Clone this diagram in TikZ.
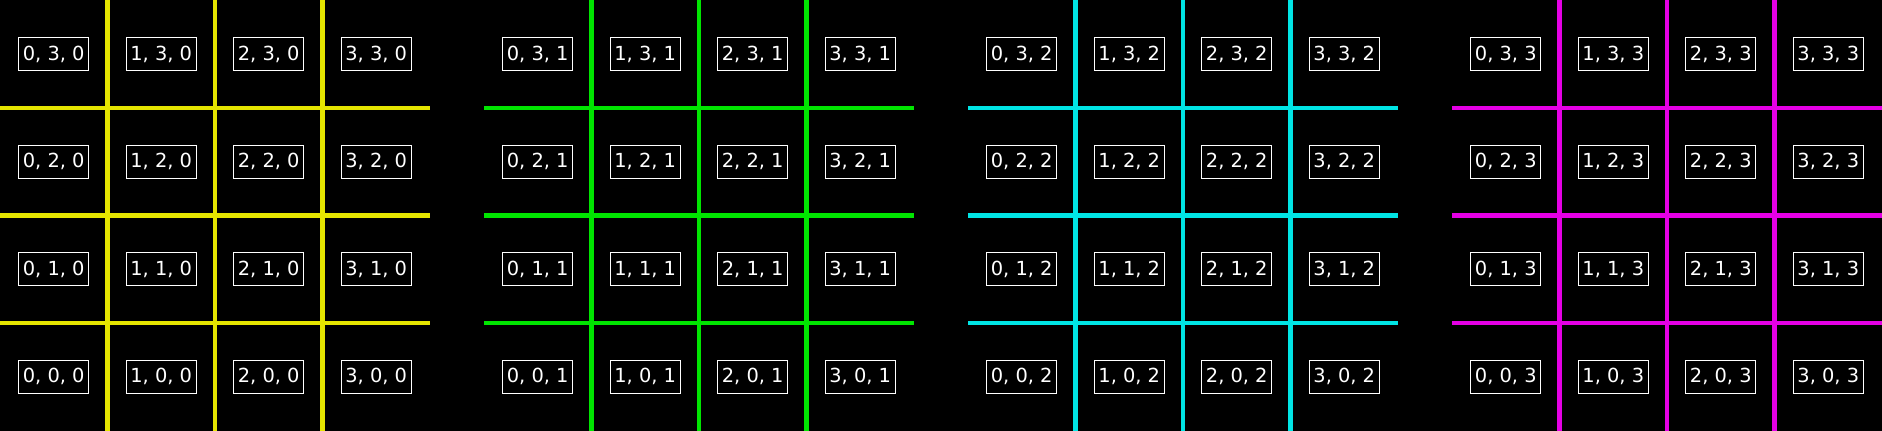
\documentclass[tikz,border=0pt]{standalone}
\usepackage{fontspec}
\setmainfont{DejaVu Sans}
\definecolor{LayerClrA}{rgb}{0.9,0.9,0}
\definecolor{LayerClrB}{rgb}{0,0.9,0}
\definecolor{LayerClrC}{rgb}{0,0.9,0.9}
\definecolor{LayerClrD}{rgb}{0.9,0,0.9}
\tikzset{cellLabel/.style={draw=white,line width=0.5pt,text=white,inner xsep=2pt,
    minimum height=16.6pt,font=\fontsize{9.7}{11}\selectfont},
  gridLine/.style={line width=2.2pt}}

\begin{document}
\begin{tikzpicture}[x=1.889cm,y=1.889cm]
\fill[black] (0,-0.005) rectangle (17.507,4.004);
\useasboundingbox (0,-0.005) rectangle (17.507,4.004);

\foreach \z/\clr in {0/LayerClrA,1/LayerClrB,2/LayerClrC,3/LayerClrD}{
  \begin{scope}[shift={(\z*4.5023,0)}]
    \foreach \k in {1,2,3}{
      \draw[gridLine,\clr] (0,\k) -- (4,\k);
      \draw[gridLine,\clr] (\k,-0.01) -- (\k,4.004);
    }
    \foreach \x in {0,...,3}{
      \foreach \y in {0,...,3}{
        \node[cellLabel] (c-\x-\y-\z) at (\x+0.5,\y+0.5) {\x, \y, \z};
      }
    }
  \end{scope}
}

\end{tikzpicture}
\end{document}
